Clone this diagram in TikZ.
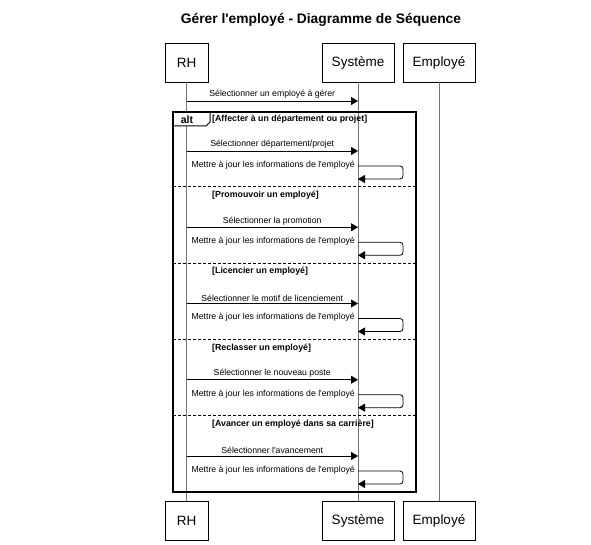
\documentclass[tikz,border=0pt]{standalone}
\usepackage{fontspec}
\setmainfont{Liberation Sans}
\usetikzlibrary{arrows.meta}
\tikzset{
  actor/.style ={draw, line width=0.7pt, minimum height=39pt, inner sep=2pt,
                 font=\fontsize{13.5}{15}\selectfont},
  life/.style  ={draw=black!55, line width=0.8pt},
  msg/.style   ={draw=black, line width=0.8pt, -{Triangle[length=7pt,width=8pt]}},
  lbl/.style   ={font=\fontsize{8.7}{10}\selectfont, inner sep=1pt},
  guard/.style ={font=\fontsize{8.8}{10}\selectfont\bfseries, inner sep=0pt, anchor=west},
  frm/.style   ={draw, line width=1.3pt},
  sep/.style   ={draw, line width=1pt, dash pattern=on 3pt off 2pt},
  ttl/.style   ={font=\fontsize{13.8}{16}\selectfont\bfseries},
}
\begin{document}
\begin{tikzpicture}[x=1pt,y=-1pt]
  \useasboundingbox (0,0) rectangle (591,545);
  \node[ttl] (title) at (321,20) {Gérer l\textquotesingle employé - Diagramme de Séquence};
  % participants, top and bottom
  \node[actor,minimum width=43pt] (rhT)  at (186.5,62.5) {RH};
  \node[actor,minimum width=72pt] (sysT) at (358,62.5)   {Système};
  \node[actor,minimum width=72pt] (empT) at (439,62.5)   {Employé};
  \node[actor,minimum width=43pt] (rhB)  at (186.5,521)  {RH};
  \node[actor,minimum width=72pt] (sysB) at (358,521)    {Système};
  \node[actor,minimum width=72pt] (empB) at (439,521)    {Employé};
  \draw[life] (rhT) -- (rhB);
  \draw[life] (sysT) -- (sysB);
  \draw[life] (empT) -- (empB);
  \coordinate (m0a) at (186.5,101);
  \coordinate (m0b) at (358,101);
  \draw[msg] (m0a) -- node[lbl,above=1pt] {Sélectionner un employé à gérer} (m0b);
  % alt fragment
  \draw[line width=1pt,fill=white] (173,112) -- (210,112) -- (210,122) -- (206,126) -- (173,126) -- cycle;
  \node[font=\fontsize{10.5}{12}\selectfont\bfseries,inner sep=0pt] (alt) at (187,119.5) {alt};
  \draw[frm] (173,112) rectangle (416,492);
  \foreach \g/\m [count=\i from 0] in {
      {[Affecter à un département ou projet]}/{Sélectionner département/projet},
      {[Promouvoir un employé]}/{Sélectionner la promotion},
      {[Licencier un employé]}/{Sélectionner le motif de licenciement},
      {[Reclasser un employé]}/{Sélectionner le nouveau poste},
      {[Avancer un employé dans sa carrière]}/{Sélectionner l\textquotesingle avancement}} {
    \pgfmathsetmacro\yy{119+76.25*\i}
    \node[guard] (g\i) at (212,\yy) {\g};
    \coordinate (a\i) at (186.5,\yy+32);
    \coordinate (b\i) at (358,\yy+32);
    \draw[msg] (a\i) -- node[lbl,above=1pt] {\m} (b\i);
    \coordinate (s\i) at (358,\yy+47);
    \coordinate (t\i) at (358,\yy+60);
    \node[lbl,anchor=east] (u\i) at (356,\yy+46) {Mettre à jour les informations de l\textquotesingle employé};
    \draw[msg,rounded corners=3pt] (s\i) -- ++(45,0) |- (t\i);
    \ifnum\i<4 \draw[sep] (173,\yy+68) -- (416,\yy+68); \fi
  }
\end{tikzpicture}
\end{document}
